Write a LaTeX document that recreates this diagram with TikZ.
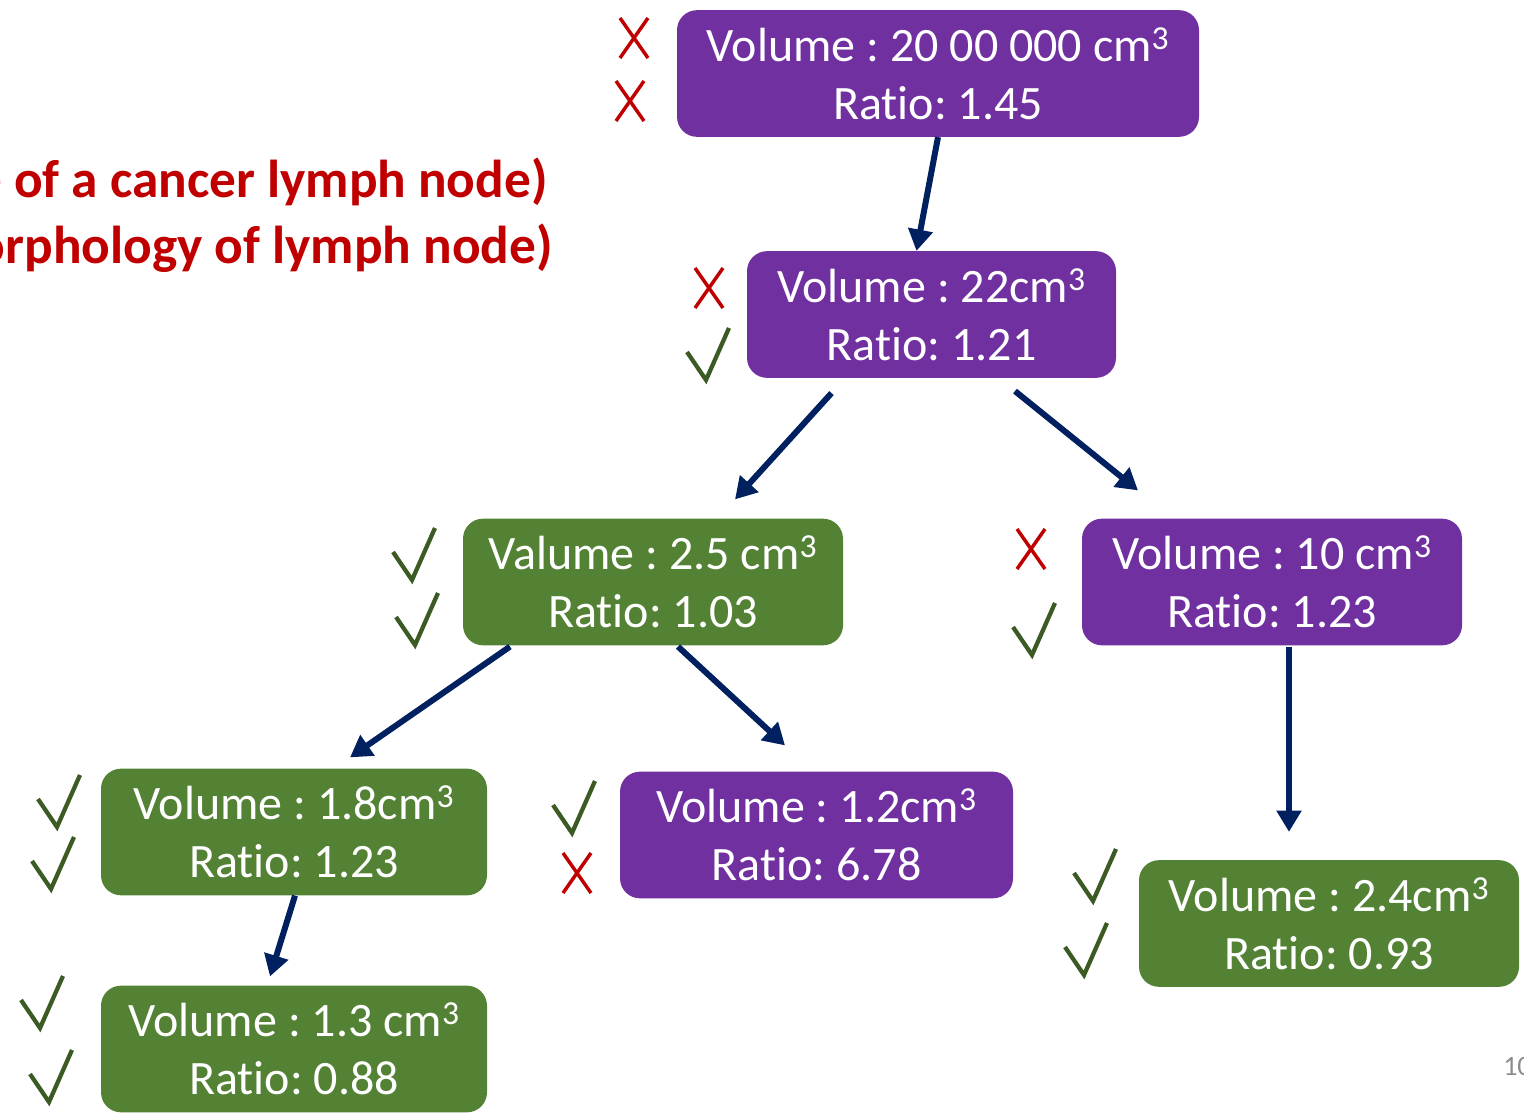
\documentclass[tikz,border=0pt]{standalone}
\usepackage{fontspec}
\setmainfont{Carlito}[RawFeature=-liga]
\frenchspacing
\usetikzlibrary{arrows.meta,calc}
\definecolor{boxpurple}{HTML}{7030A0}
\definecolor{boxgreen}{HTML}{548235}
\definecolor{arrownavy}{HTML}{002060}
\definecolor{markred}{HTML}{C00000}
\definecolor{markgreen}{HTML}{3B5A24}
\definecolor{pagegray}{HTML}{8C8C8C}
\begin{document}
\begin{tikzpicture}[x=0.75pt,y=-0.75pt,
  box/.style={rounded corners=15pt, minimum height=95pt, inner sep=0pt,
    text=white, align=center, font=\fontsize{36}{43.5}\selectfont},
  purplebox/.style={box, fill=boxpurple},
  greenbox/.style={box, fill=boxgreen},
  conn/.style={draw=arrownavy, line width=4.5pt,
    -{Triangle[length=16pt,width=18pt]}},
  chk/.pic={\draw[markgreen, line width=3.2pt] (-19,-28) -- (0,0) -- (23,-52);},
  crs/.pic={\draw[markred, line width=2.6pt] (-14,-20) -- (14,20) (14,-20) -- (-14,20);},
  redtitle/.style={text=markred, font=\fontsize{40}{48}\selectfont\bfseries, inner sep=0pt, anchor=base east}
]
\useasboundingbox (0,0) rectangle (1524,1116);
\clip (0,0) rectangle (1524,1116);

% title text (cut at left edge)
\node[redtitle] (t1) at (548,198) {(Size of a cancer lymph node)};
\node[redtitle] (t2) at (553,264) {(Morphology of lymph node)};

% boxes
\node[purplebox, minimum width=391.5pt] (top) at (938,73.5) {Volume : 20 00 000 cm\textsuperscript{3}\\Ratio: 1.45};
\node[purplebox, minimum width=276.75pt] (n22) at (931.5,314.5) {Volume : 22cm\textsuperscript{3}\\Ratio: 1.21};
\node[greenbox, minimum width=285pt] (val) at (653,582) {Valume : 2.5 cm\textsuperscript{3}\\Ratio: 1.03};
\node[purplebox, minimum width=285pt] (n10) at (1272,582) {Volume : 10 cm\textsuperscript{3}\\Ratio: 1.23};
\node[greenbox, minimum width=289.5pt] (n18) at (294,832) {Volume : 1.8cm\textsuperscript{3}\\Ratio: 1.23};
\node[purplebox, minimum width=294.75pt] (n12) at (816.5,835) {Volume : 1.2cm\textsuperscript{3}\\Ratio: 6.78};
\node[greenbox, minimum width=285pt] (n24) at (1329,923.5) {Volume : 2.4cm\textsuperscript{3}\\Ratio: 0.93};
\node[greenbox, minimum width=289.5pt] (n13) at (294,1049) {Volume : 1.3 cm\textsuperscript{3}\\Ratio: 0.88};

% connectors
\draw[conn] (top.south) -- ($(n22.north)+(-15,0)$);
\draw[conn] ($(n22.south)+(-100,15)$) -- ($(val.north)+(82,-19)$);
\draw[conn] ($(n22.south)+(83.5,13)$) -- ($(n10.north)+(-134,-28)$);
\draw[conn] ($(val.south)+(-143,1)$) -- ($(n18.north)+(56,-11)$);
\draw[conn] ($(val.south)+(25,1)$) -- ($(n12.north)+(-31.5,-26)$);
\draw[conn] ($(n10.south)+(17,1)$) -- ($(n24.north)+(-40,-28)$);
\draw[conn] ($(n18.south)+(1,0)$) -- ($(n13.north)+(-24,-9)$);

% marks
\pic at (634,38) {crs};
\pic at (630,101) {crs};
\pic at (709,288) {crs};
\pic at (706,380) {chk};
\pic at (412,580) {chk};
\pic at (415,645) {chk};
\pic at (1031,549) {crs};
\pic at (1032,655) {chk};
\pic at (57,827) {chk};
\pic at (51,889) {chk};
\pic at (572,833) {chk};
\pic at (577,873) {crs};
\pic at (1093,901) {chk};
\pic at (1084,975) {chk};
\pic at (40,1028) {chk};
\pic at (49,1102) {chk};

% page number (cut at right edge)
\node[text=pagegray, font=\fontsize{21}{25}\selectfont, inner sep=0pt, anchor=base west] (pg) at (1503,1075) {10};
\end{tikzpicture}
\end{document}
